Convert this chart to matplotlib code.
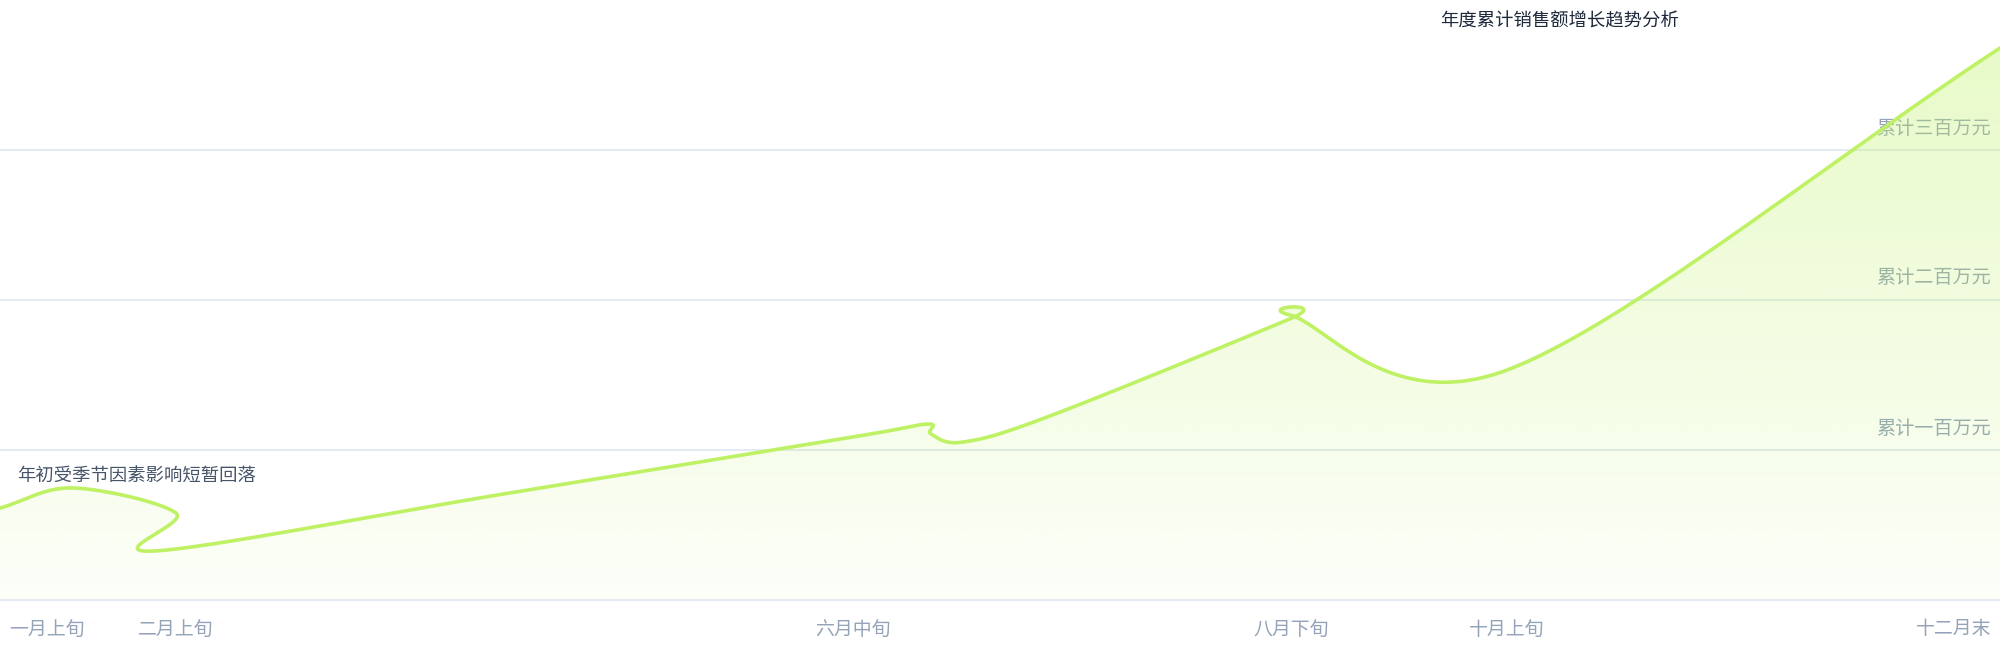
import numpy as np
import matplotlib
matplotlib.use("Agg")
import matplotlib.pyplot as plt
import matplotlib.transforms as mtransforms
from matplotlib.patches import Polygon

plt.rcParams['font.family'] = ['Noto Sans CJK SC', 'DejaVu Sans']

title = "年度累计销售额增长趋势分析"
note = "年初受季节因素影响短暂回落"

# 横轴：全年进度（0-100），纵轴：累计销售额（万元）
x_vals = [0, 3.65, 8.8, 7.75, 25.0, 42.65, 46.4, 46.55, 48.15, 52.5, 64.6, 64.5, 75.35, 100]
y_vals = [61.3, 74.7, 58.0, 32.7, 70.3, 108.7, 117.3, 110.7, 105.3, 122.7, 188.0, 190.0, 153.3, 368.0]

tick_pos = [0, 8.8, 42.65, 64.55, 75.35, 100]
tick_labels = ["一月上旬", "二月上旬", "六月中旬", "八月下旬", "十月上旬", "十二月末"]

grid_vals = [100, 200, 300]
grid_labels = ["累计一百万元", "累计二百万元", "累计三百万元"]

LINE = "#bef264"
W, H = 2000, 660


def catmull_rom(xs, ys, n=80):
    pts = np.column_stack([xs, ys]).astype(float)
    ext = np.vstack([2 * pts[0] - pts[1], pts, 2 * pts[-1] - pts[-2]])
    t = np.linspace(0, 1, n)[:, None]
    h00 = 2 * t**3 - 3 * t**2 + 1
    h10 = t**3 - 2 * t**2 + t
    h01 = -2 * t**3 + 3 * t**2
    h11 = t**3 - t**2
    out = []
    for i in range(1, len(ext) - 2):
        p0, p1, p2, p3 = ext[i - 1], ext[i], ext[i + 1], ext[i + 2]
        m1 = 0.5 * (p2 - p0)
        m2 = 0.5 * (p3 - p1)
        seg = h00 * p1 + h10 * m1 + h01 * p2 + h11 * m2
        out.append(seg if i == 1 else seg[1:])
    return np.vstack(out)


fig = plt.figure(figsize=(W / 100, H / 100), dpi=100)
ax = fig.add_axes([0, 60 / H, 1, 600 / H])
ax.set_xlim(0, 100)
ax.set_ylim(0, 400)
ax.axis('off')

# 网格线
for g in [0] + grid_vals:
    ax.axhline(g, color="#e2e8f0", lw=1.3, zorder=0, clip_on=False)

# 纵轴标签（放在填充下面，会被染成浅绿）
for g, lab in zip(grid_vals, grid_labels):
    ax.text(1991 / W, 1 - (600 - g * 1.5 - 22) / H, lab, transform=fig.transFigure,
            ha='right', va='center', fontsize=13.8, color="#94a3b8", zorder=1)

curve = catmull_rom(x_vals, y_vals)

# 渐变填充
poly = np.vstack([curve, [[curve[-1, 0], 0], [curve[0, 0], 0]]])
patch = Polygon(poly, closed=True, facecolor='none', edgecolor='none')
ax.add_patch(patch)
grad = np.zeros((256, 1, 4))
rgb = matplotlib.colors.to_rgb(LINE)
grad[:, 0, :3] = rgb
grad[:, 0, 3] = np.linspace(0.04, 0.38, 256)
img = ax.imshow(grad, extent=[0, 100, 0, 400], origin='lower', aspect='auto', zorder=2)
img.set_clip_path(patch)

ax.plot(curve[:, 0], curve[:, 1], color=LINE, lw=2.6, zorder=3,
        solid_capstyle='round', solid_joinstyle='round', clip_on=False)

# 横轴标签
base = mtransforms.blended_transform_factory(ax.transData, fig.transFigure)
for i, (p, lab) in enumerate(zip(tick_pos, tick_labels)):
    if i == 0:
        tr, ha = mtransforms.offset_copy(base, fig=fig, x=9, y=0, units='dots'), 'left'
    elif i == len(tick_pos) - 1:
        tr, ha = mtransforms.offset_copy(base, fig=fig, x=-9, y=0, units='dots'), 'right'
    else:
        tr, ha = base, 'center'
    ax.text(p, 1 - 629 / H, lab, transform=tr, ha=ha, va='center',
            fontsize=13.6, color="#94a3b8", clip_on=False)

fig.text(1560 / W, 1 - 21 / H, title, ha='center', va='center',
         fontsize=13.2, color="#1e293b")
fig.text(17 / W, 1 - 477 / H, note, ha='left', va='center',
         fontsize=13.2, color="#475569")

fig.savefig("out.png", dpi=100, facecolor="white")
